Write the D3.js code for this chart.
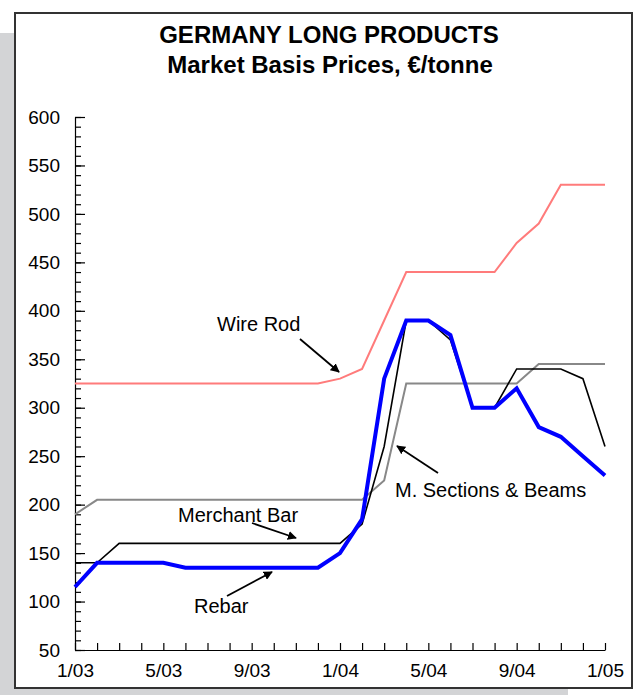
<!DOCTYPE html>
<html>
<head>
<meta charset="utf-8">
<script src="https://cdn.jsdelivr.net/npm/d3@7"></script>
<style>
  body { margin: 0; background: #fff; }
  svg { display: block; font-family: "Liberation Sans", Arial, sans-serif; }
</style>
</head>
<body>
<div id="chart"></div>
<script>
// monthly market basis prices, 1/03 .. 1/05
var months = ["1/03","2/03","3/03","4/03","5/03","6/03","7/03","8/03","9/03","10/03","11/03","12/03",
              "1/04","2/04","3/04","4/04","5/04","6/04","7/04","8/04","9/04","10/04","11/04","12/04","1/05"];
var wireRod     = [325,325,325,325,325,325,325,325,325,325,325,325,330,340,390,440,440,440,440,440,470,490,530,530,530];
var sections    = [190,205,205,205,205,205,205,205,205,205,205,205,205,205,225,325,325,325,325,325,325,345,345,345,345];
var merchantBar = [140,140,160,160,160,160,160,160,160,160,160,160,160,180,260,390,390,370,300,300,340,340,340,330,260];
var rebar       = [115,140,140,140,140,135,135,135,135,135,135,135,150,185,330,390,390,375,300,300,320,280,270,250,230];
var yTicks = [50,100,150,200,250,300,350,400,450,500,550,600];
var xLabelEvery = 4;

var width = 636, height = 695;
var svg = d3.select("#chart").append("svg")
  .attr("width", width)
  .attr("height", height);

// grey backing panel + framed white card
svg.append("rect").attr("x", 0).attr("y", 33).attr("width", 568).attr("height", 662).attr("fill", "#d3d4d6");
svg.append("rect").attr("x", 15).attr("y", 13).attr("width", 617).attr("height", 675)
  .attr("fill", "#fff").attr("stroke", "#333").attr("stroke-width", 2);

svg.append("text").attr("x", 329).attr("y", 43).attr("text-anchor", "middle")
  .attr("font-size", 24).attr("font-weight", "bold").text("GERMANY LONG PRODUCTS");
svg.append("text").attr("x", 330).attr("y", 73).attr("text-anchor", "middle")
  .attr("font-size", 24).attr("font-weight", "bold").text("Market Basis Prices, €/tonne");

var x = d3.scaleLinear().domain([0, months.length - 1]).range([75, 605]);
var y = d3.scaleLinear().domain([50, 600]).range([650, 117]);

// y axis: major ticks every 50, minor every 10, drawn inward
svg.append("g").attr("transform", "translate(75,0)")
  .call(d3.axisLeft(y).tickValues(yTicks).tickSizeInner(-10).tickSizeOuter(0).tickPadding(15));
svg.append("g").attr("transform", "translate(75,0)")
  .call(d3.axisLeft(y).tickValues(d3.range(50, 601, 10)).tickSizeInner(-6).tickSizeOuter(0).tickFormat(""))
  .select(".domain").remove();

svg.append("g").attr("transform", "translate(0,650)")
  .call(d3.axisBottom(x).tickValues(d3.range(months.length)).tickSizeInner(-7).tickSizeOuter(0).tickPadding(14)
    .tickFormat(function(i) { return i % xLabelEvery === 0 ? months[i] : ""; }));

svg.selectAll(".tick text").attr("font-size", 19).attr("fill", "#000")
  .style("font-family", "'Liberation Sans', Arial, sans-serif");
svg.selectAll(".domain, .tick line").attr("stroke", "#000").attr("stroke-width", 1.2);

var line = d3.line()
  .x(function(d, i) { return x(i); })
  .y(function(d) { return y(d); });

var series = [
  { values: wireRod, color: "#ff7b7b", w: 2 },
  { values: sections, color: "#888888", w: 2 },
  { values: merchantBar, color: "#000000", w: 1.6 },
  { values: rebar, color: "#0000ff", w: 4 }
];
svg.append("g").selectAll("path").data(series).enter().append("path")
  .attr("d", function(d) { return line(d.values); })
  .attr("fill", "none")
  .attr("stroke", function(d) { return d.color; })
  .attr("stroke-width", function(d) { return d.w; })
  .attr("stroke-linejoin", "miter");

// annotations
svg.append("defs").append("marker")
  .attr("id", "head").attr("viewBox", "0 0 10 10").attr("refX", 9).attr("refY", 5)
  .attr("markerWidth", 5).attr("markerHeight", 5).attr("orient", "auto")
  .append("path").attr("d", "M0,0 L10,5 L0,10 z").attr("fill", "#000");

var notes = [
  { text: "Wire Rod", tx: 217, ty: 331, x1: 300, y1: 339, x2: 339, y2: 372 },
  { text: "M. Sections & Beams", tx: 395, ty: 497, x1: 438, y1: 473, x2: 397, y2: 446 },
  { text: "Merchant Bar", tx: 178, ty: 522, x1: 252, y1: 523, x2: 296, y2: 538 },
  { text: "Rebar", tx: 194, ty: 613, x1: 227, y1: 596, x2: 272, y2: 572 }
];
var g = svg.append("g");
g.selectAll("text").data(notes).enter().append("text")
  .attr("x", function(d) { return d.tx; })
  .attr("y", function(d) { return d.ty; })
  .attr("font-size", 20)
  .text(function(d) { return d.text; });
g.selectAll("line").data(notes).enter().append("line")
  .attr("x1", function(d) { return d.x1; }).attr("y1", function(d) { return d.y1; })
  .attr("x2", function(d) { return d.x2; }).attr("y2", function(d) { return d.y2; })
  .attr("stroke", "#000").attr("stroke-width", 1.8)
  .attr("marker-end", "url(#head)");
</script>
</body>
</html>
